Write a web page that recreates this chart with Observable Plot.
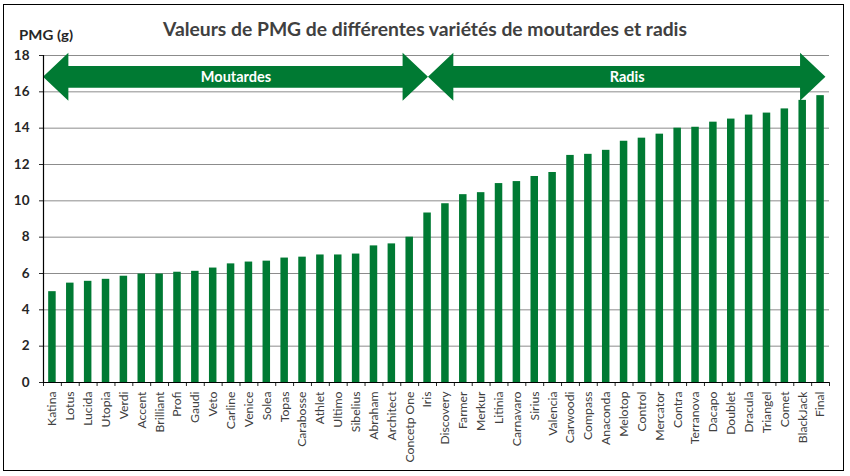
<!DOCTYPE html>
<html>
<head>
<meta charset="utf-8">
<script src="https://cdn.jsdelivr.net/npm/d3@7"></script>
<script src="https://cdn.jsdelivr.net/npm/@observablehq/plot@0.6"></script>
<style>
  body { margin: 0; background: #fff; }
  #wrap { position: relative; width: 850px; height: 476px; }
  #frame { position: absolute; left: 3px; top: 4px; width: 841px; height: 467px; border: 1.5px solid #000; box-sizing: border-box; }
  #chart { position: absolute; left: 0; top: 0; }
</style>
</head>
<body>
<div id="wrap"><div id="frame"></div><div id="chart"></div></div>
<script>
const varieties = ["Katina","Lotus","Lucida","Utopia","Verdi","Accent","Brilliant","Profi","Gaudi","Veto","Carline","Venice","Solea","Topas","Carabosse","Athlet","Ultimo","Sibelius","Abraham","Architect","Concetp One","Iris","Discovery","Farmer","Merkur","Litinia","Carnavaro","Sirius","Valencia","Carwoodi","Compass","Anaconda","Melotop","Control","Mercator","Contra","Terranova","Dacapo","Doublet","Dracula","Triangel","Comet","BlackJack","Final"];
const pmg = [5.0,5.47,5.57,5.68,5.85,5.97,5.97,6.07,6.12,6.3,6.53,6.63,6.68,6.85,6.9,7.02,7.02,7.07,7.52,7.63,8.0,9.33,9.84,10.34,10.45,10.95,11.06,11.34,11.56,12.5,12.56,12.78,13.28,13.45,13.67,14.0,14.05,14.33,14.5,14.72,14.83,15.06,15.53,15.79];
const yTicks = [0,2,4,6,8,10,12,14,16,18];
const groupNames = ["Moutardes","Radis"];
const groupStart = [-0.5, 21.05];
const groupEnd = [21.05, 43.3];

const green = "#007A33";
const n = varieties.length;
const bars = varieties.map((name, i) => ({i, name, v: pmg[i]}));
const bounds = d3.range(n + 1).map(i => i - 0.5);

// arrow shapes (double-headed) in data units
const yc = 16.8, shaftH = 0.6, headH = 1.32, headL = 1.42;
const arrowPts = [];
groupNames.forEach((g, k) => {
  const a = groupStart[k], b = groupEnd[k];
  arrowPts.push({g, x: a, y1: yc, y2: yc});
  arrowPts.push({g, x: a + headL, y1: yc - headH, y2: yc + headH});
  arrowPts.push({g, x: a + headL, y1: yc - shaftH, y2: yc + shaftH});
  arrowPts.push({g, x: b - headL, y1: yc - shaftH, y2: yc + shaftH});
  arrowPts.push({g, x: b - headL, y1: yc - headH, y2: yc + headH});
  arrowPts.push({g, x: b, y1: yc, y2: yc});
});
const arrowLabels = groupNames.map((g, k) => ({g, x: (groupStart[k] + groupEnd[k]) / 2, y: yc}));

const chart = Plot.plot({
  width: 850,
  height: 476,
  marginLeft: 43,
  marginRight: 21,
  marginTop: 55,
  marginBottom: 94,
  style: {fontFamily: "Lato, 'Open Sans', sans-serif", fontSize: "13.5px", fontWeight: "bold", color: "#262626", background: "transparent", overflow: "visible"},
  x: {domain: [-0.5, n - 0.5], ticks: bounds, tickFormat: () => "", tickSize: 4, label: null},
  y: {domain: [0, 18], ticks: yTicks, tickSize: 4, tickPadding: 10, label: null},
  marks: [
    Plot.ruleY(yTicks, {stroke: "#8c8c8c", strokeWidth: 1}),
    Plot.rectY(bars, {x1: d => d.i - 0.21, x2: d => d.i + 0.21, y1: 0, y2: "v", fill: green}),
    Plot.areaY(arrowPts, {x: "x", y1: "y1", y2: "y2", z: "g", fill: green, curve: "linear"}),
    Plot.text(arrowLabels, {x: "x", y: "y", text: "g", fill: "white", fontSize: 14.5, fontWeight: "bold"}),
    Plot.ruleY([0], {stroke: "#000", strokeWidth: 1.2}),
    Plot.ruleX([-0.5], {y1: 0, y2: 18, stroke: "#000", strokeWidth: 1.2}),
    Plot.text(bars, {x: "i", y: 0, text: "name", rotate: -90, textAnchor: "end", dy: 9, fontSize: 12.2, fontWeight: "normal", fill: "#404040", fontFamily: "Lato, sans-serif"})
  ]
});

const svg = d3.select(chart);
svg.append("text")
  .attr("x", 425).attr("y", 35.5)
  .attr("text-anchor", "middle")
  .attr("font-family", "Lato, sans-serif")
  .attr("font-size", 18.5).attr("font-weight", "bold")
  .attr("fill", "#404040")
  .attr("textLength", 524).attr("lengthAdjust", "spacingAndGlyphs")
  .text("Valeurs de PMG de différentes variétés de moutardes et radis");
svg.append("text")
  .attr("x", 19).attr("y", 39.5)
  .attr("text-anchor", "start")
  .attr("font-family", "Lato, sans-serif")
  .attr("font-size", 13.5).attr("font-weight", "bold")
  .attr("fill", "#262626")
  .attr("textLength", 54).attr("lengthAdjust", "spacingAndGlyphs")
  .text("PMG (g)");

document.getElementById("chart").appendChild(chart);
</script>
</body>
</html>
